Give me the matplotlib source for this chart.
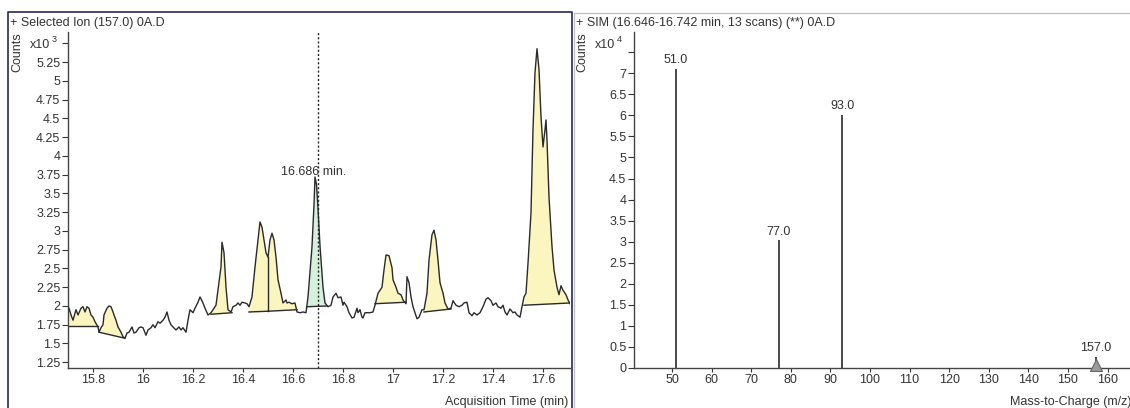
import numpy as np
import matplotlib.pyplot as plt
from matplotlib.lines import Line2D
from matplotlib.ticker import FixedLocator, FuncFormatter

plt.rcParams['font.family'] = ['Liberation Sans', 'DejaVu Sans']

# Extracted ion chromatogram, m/z 157.0 (counts x10^3)
times = [15.704, 15.712, 15.720, 15.732, 15.740, 15.752, 15.760, 15.768, 15.776, 15.784,
         15.792, 15.800, 15.808, 15.820, 15.824, 15.832, 15.840, 15.844, 15.856, 15.864,
         15.872, 15.880, 15.884, 15.892, 15.900, 15.912, 15.920, 15.928, 15.936, 15.944,
         15.956, 15.964, 15.972, 15.984, 15.992, 16.000, 16.012, 16.020, 16.032, 16.040,
         16.048, 16.060, 16.068, 16.080, 16.088, 16.096, 16.104, 16.112, 16.120, 16.132,
         16.144, 16.152, 16.160, 16.172, 16.180, 16.188, 16.200, 16.208, 16.220, 16.228,
         16.240, 16.248, 16.260, 16.272, 16.280, 16.292, 16.300, 16.312, 16.316, 16.324,
         16.332, 16.340, 16.352, 16.360, 16.372, 16.380, 16.388, 16.396, 16.408, 16.416,
         16.424, 16.436, 16.448, 16.460, 16.468, 16.476, 16.484, 16.492, 16.500, 16.508,
         16.516, 16.524, 16.532, 16.540, 16.552, 16.560, 16.572, 16.576, 16.584, 16.596,
         16.608, 16.616, 16.628, 16.640, 16.652, 16.660, 16.676, 16.684, 16.688, 16.694,
         16.700, 16.708, 16.720, 16.728, 16.740, 16.752, 16.760, 16.772, 16.780, 16.792,
         16.800, 16.804, 16.816, 16.824, 16.836, 16.844, 16.856, 16.860, 16.868, 16.876,
         16.880, 16.888, 16.896, 16.908, 16.920, 16.928, 16.940, 16.956, 16.964, 16.972,
         16.984, 16.996, 17.000, 17.012, 17.020, 17.032, 17.040, 17.052, 17.056, 17.064,
         17.072, 17.080, 17.088, 17.096, 17.104, 17.116, 17.124, 17.136, 17.144, 17.156,
         17.164, 17.172, 17.180, 17.188, 17.200, 17.208, 17.220, 17.232, 17.240, 17.252,
         17.264, 17.276, 17.284, 17.296, 17.304, 17.316, 17.324, 17.336, 17.348, 17.360,
         17.372, 17.380, 17.392, 17.400, 17.412, 17.420, 17.432, 17.440, 17.448, 17.456,
         17.468, 17.480, 17.488, 17.496, 17.508, 17.516, 17.524, 17.532, 17.540, 17.552,
         17.560, 17.568, 17.576, 17.584, 17.592, 17.600, 17.608, 17.612, 17.616, 17.624,
         17.636, 17.644, 17.656, 17.664, 17.672, 17.680, 17.692, 17.700, 17.708]
counts = [1.97, 1.88, 1.81, 1.95, 1.88, 1.97, 1.99, 1.92, 1.99, 1.97,
          1.88, 1.85, 1.79, 1.72, 1.65, 1.71, 1.75, 1.88, 1.97, 2.00,
          1.99, 1.92, 1.88, 1.81, 1.72, 1.65, 1.59, 1.57, 1.64, 1.65,
          1.72, 1.64, 1.65, 1.71, 1.72, 1.71, 1.61, 1.68, 1.71, 1.75,
          1.71, 1.79, 1.77, 1.81, 1.85, 1.92, 1.81, 1.75, 1.72, 1.68,
          1.72, 1.68, 1.71, 1.65, 1.81, 1.95, 1.91, 1.97, 2.05, 2.12,
          2.04, 1.97, 1.88, 1.91, 1.95, 2.01, 2.21, 2.52, 2.85, 2.71,
          2.25, 1.95, 1.92, 1.99, 2.01, 2.04, 2.01, 2.05, 2.04, 2.03,
          1.99, 2.12, 2.52, 2.88, 3.12, 3.05, 2.88, 2.71, 2.65, 2.88,
          2.97, 2.88, 2.65, 2.35, 2.17, 2.04, 2.08, 2.04, 2.05, 2.03,
          2.04, 1.92, 1.91, 1.92, 1.91, 2.12, 2.79, 3.35, 3.72, 3.62,
          3.30, 2.80, 2.25, 2.04, 1.99, 2.01, 2.12, 2.17, 2.11, 2.12,
          2.01, 2.05, 1.99, 1.91, 1.84, 1.85, 1.97, 1.91, 1.95, 1.85,
          1.84, 1.91, 1.91, 1.91, 1.92, 2.01, 2.17, 2.25, 2.48, 2.68,
          2.67, 2.51, 2.35, 2.25, 2.17, 2.15, 2.08, 2.03, 2.39, 2.31,
          2.12, 1.99, 1.91, 1.83, 1.85, 1.95, 1.95, 2.17, 2.61, 2.95,
          3.01, 2.88, 2.61, 2.31, 2.17, 2.04, 1.96, 1.97, 2.07, 2.01,
          1.99, 2.01, 2.04, 2.05, 1.91, 1.87, 1.91, 1.88, 1.91, 1.99,
          2.09, 2.11, 2.07, 2.01, 2.04, 1.99, 1.97, 2.01, 1.92, 1.88,
          1.96, 1.91, 1.92, 1.88, 1.85, 1.99, 2.12, 2.17, 2.57, 3.24,
          4.35, 5.11, 5.43, 5.15, 4.52, 4.12, 4.35, 4.48, 4.21, 3.45,
          2.79, 2.48, 2.25, 2.15, 2.27, 2.21, 2.15, 2.08, 2.03]

# Integrated peaks: baseline start/end (time, counts)
peak_t0 = [15.704, 15.824, 16.272, 16.424, 16.500, 16.656, 16.928, 17.124, 17.524]
peak_t1 = [15.820, 15.928, 16.356, 16.500, 16.616, 16.736, 17.052, 17.232, 17.708]
peak_b0 = [1.73, 1.65, 1.89, 1.92, 1.93, 1.99, 2.03, 1.92, 2.01]
peak_b1 = [1.73, 1.57, 1.91, 1.93, 1.95, 2.00, 2.05, 1.96, 2.04]
peak_sel = [False, False, False, False, False, True, False, False, False]
split_time = 16.500
cursor_time = 16.700
apex_label = '16.686 min.'
apex_time = 16.688

# SIM spectrum (counts x10^4)
mz = [51.0, 77.0, 93.0, 157.0]
intensity = [7.10, 3.03, 6.02, 0.27]
precursor_mz = 157.0

W, H = 1130, 408
fig = plt.figure(figsize=(W / 100, H / 100), dpi=100)
fig.patch.set_facecolor('white')

def fx(px):
    return px / W

def fy(py):
    return 1 - py / H

fs = 9
txt = '#333333'
line_c = '#2a2a2a'
yellow = '#fbf6bf'
green = '#d6f0de'


def style_axes(ax):
    for s in ['top', 'right']:
        ax.spines[s].set_visible(False)
    for s in ['left', 'bottom']:
        ax.spines[s].set_color('#444444')
        ax.spines[s].set_linewidth(1)
    ax.tick_params(axis='both', labelsize=fs, colors=txt, width=0.8, pad=1.5)
    ax.tick_params(axis='y', length=4)
    ax.tick_params(axis='x', length=3)


fmt = lambda top: FuncFormatter(lambda v, p: '' if abs(v - top) < 1e-6 else '%g' % v)

# ---- chromatogram ----
ax1 = fig.add_axes([fx(68), fy(368), fx(502), 336 / H])
t = np.array(times)
c = np.array(counts)
for t0, t1, b0, b1, sel in zip(peak_t0, peak_t1, peak_b0, peak_b1, peak_sel):
    inner = t[(t > t0) & (t < t1)]
    tt = np.concatenate([[t0], inner, [t1]])
    cc = np.interp(tt, t, c)
    bb = np.interp(tt, [t0, t1], [b0, b1])
    ax1.fill_between(tt, bb, cc, where=cc >= bb, interpolate=True,
                     color=green if sel else yellow, lw=0, zorder=1)
    ax1.plot([t0, t1], [b0, b1], color=line_c, lw=1, zorder=2)
ax1.plot([split_time, split_time], [peak_b0[4], np.interp(split_time, t, c)],
         color=line_c, lw=1, zorder=2)
ax1.plot(t, c, color=line_c, lw=1, zorder=3)
ax1.axvline(cursor_time, color='#222222', lw=1, ls=(0, (1.5, 1.5)), zorder=4)
ax1.text(apex_time - 0.004, np.interp(apex_time, t, c) + 0.02, apex_label, ha='center',
         va='baseline', fontsize=fs, color=txt, zorder=5)
ax1.set_xlim(15.7, 17.708)
ax1.set_ylim(1.173, 5.653)
ax1.xaxis.set_major_locator(FixedLocator(np.arange(15.8, 17.61, 0.2)))
ax1.xaxis.set_major_formatter(FuncFormatter(lambda v, p: '%g' % round(v, 1)))
ax1.yaxis.set_major_locator(FixedLocator(np.arange(1.25, 5.51, 0.25)))
ax1.yaxis.set_major_formatter(fmt(5.5))
style_axes(ax1)

# ---- mass spectrum ----
ax2 = fig.add_axes([fx(634), fy(368), fx(W - 634), 336 / H])
ax2.vlines(mz, 0, intensity, color=line_c, lw=1.2)
for m, v in zip(mz, intensity):
    ax2.annotate('%.1f' % m, (m, v), xytext=(0, 2), textcoords='offset points',
                 ha='center', va='bottom', fontsize=fs, color=txt)
ax2.plot([precursor_mz], [0.06], marker='^', ms=8, mfc='#9a9a9a', mec='#666666', mew=0.8,
         clip_on=False, zorder=5)
ax2.set_xlim(40.4, 165.66)
ax2.set_ylim(0, 7.98)
ax2.xaxis.set_major_locator(FixedLocator(np.arange(50, 161, 10)))
ax2.yaxis.set_major_locator(FixedLocator(np.arange(0, 7.51, 0.5)))
ax2.yaxis.set_major_formatter(fmt(7.5))
style_axes(ax2)

# ---- panel frames and labels ----
navy = '#28285e'
fig.add_artist(Line2D([fx(8), fx(8), fx(572), fx(572)], [0, fy(12), fy(12), 0],
                      color=navy, lw=1.2))
fig.add_artist(Line2D([fx(574), fx(574), 1], [0, fy(13), fy(13)], color='#c4c4c4', lw=1))

fig.text(fx(10), fy(23), '+ Selected Ion (157.0) 0A.D', fontsize=fs, color=txt, va='center')
fig.text(fx(576), fy(23), '+ SIM (16.646-16.742 min, 13 scans) (**) 0A.D', fontsize=fs,
         color=txt, va='center')

for x0 in (17, 582):
    fig.text(fx(x0), fy(52), 'Counts', rotation=90, fontsize=fs, color=txt,
             ha='center', va='center')
for x0, e in ((30, '3'), (595, '4')):
    fig.text(fx(x0), fy(45), 'x10', fontsize=fs, color=txt, ha='left', va='center')
    fig.text(fx(x0 + 22), fy(40), e, fontsize=6.5, color=txt, ha='left', va='center')

fig.text(fx(568), fy(402), 'Acquisition Time (min)', fontsize=fs, color=txt,
         ha='right', va='center')
fig.text(fx(1010), fy(402), 'Mass-to-Charge (m/z)', fontsize=fs, color=txt,
         ha='left', va='center')

fig.savefig('out.png', dpi=100, facecolor='white')
